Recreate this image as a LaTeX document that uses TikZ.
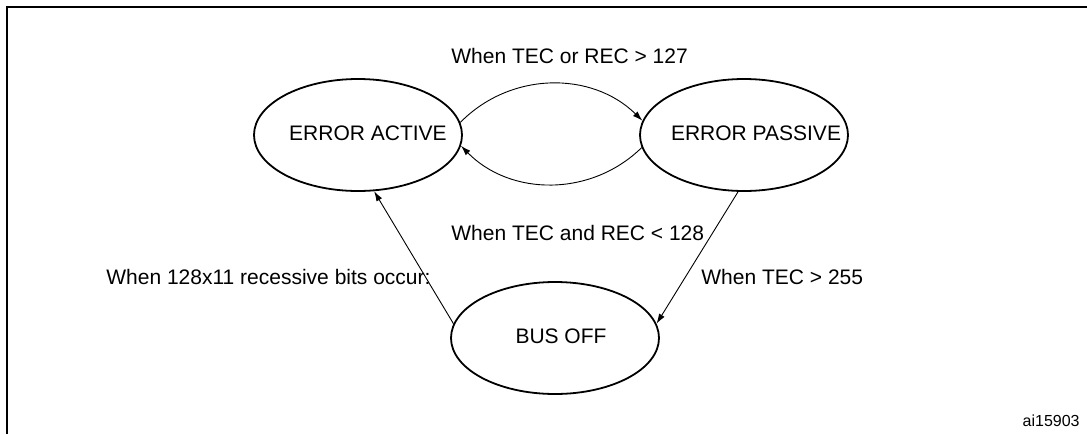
\documentclass[tikz,border=0pt]{standalone}
\usepackage{fontspec}
\setmainfont{Liberation Sans}
\usepackage{tikz}
\usetikzlibrary{shapes.geometric,arrows.meta}
\tikzset{
  >={Latex[length=5pt,width=3.2pt]},
  statebox/.style={draw,ellipse,line width=0.9pt,minimum width=104pt,minimum height=56pt,inner sep=0pt},
  condtext/.style={inner sep=0pt,font=\fontsize{10.5}{12}\selectfont},
  trans/.style={->,line width=0.45pt},
}

\begin{document}
\begin{tikzpicture}[x=0.5pt,y=-0.5pt]
            \useasboundingbox (0,0) rectangle (1087,434);
            % frame
            \draw[line width=1pt] (7,434) -- (7,7) -- (1087,7);

            % states
            \node[statebox, label={[condtext,xshift=5pt,yshift=1pt]center:ERROR ACTIVE}] (active) at (358,135) {};
            \node[statebox, label={[condtext,xshift=6pt,yshift=1pt]center:ERROR PASSIVE}] (passive) at (744,135) {};
            \node[statebox, label={[condtext,xshift=3pt,yshift=1pt]center:BUS OFF}] (busoff) at (555,338) {};

            % transitions
            \draw[trans] (active.7) to[bend left=45] (passive.172);
            \draw[trans] (passive.187) to[bend left=45] (active.354);
            \draw[trans] (passive.264) -- (busoff.8);
            \draw[trans] (busoff.172) -- (active.286);

            % conditions
            \node[condtext, anchor=base west] (tecrec127) at (451,63) {When TEC or REC > 127};
            \node[condtext, anchor=base west] (tecrec128) at (451,240) {When TEC and REC < 128};
            \node[condtext, anchor=base west] (recessive) at (106,284) {When 128x11 recessive bits occur:};
            \node[condtext, anchor=base west] (tec255) at (701,284) {When TEC > 255};

            \node[inner sep=0pt, anchor=base east, font=\fontsize{8}{9}\selectfont] (figid) at (1080,426) {ai15903};
        \end{tikzpicture}
\end{document}
